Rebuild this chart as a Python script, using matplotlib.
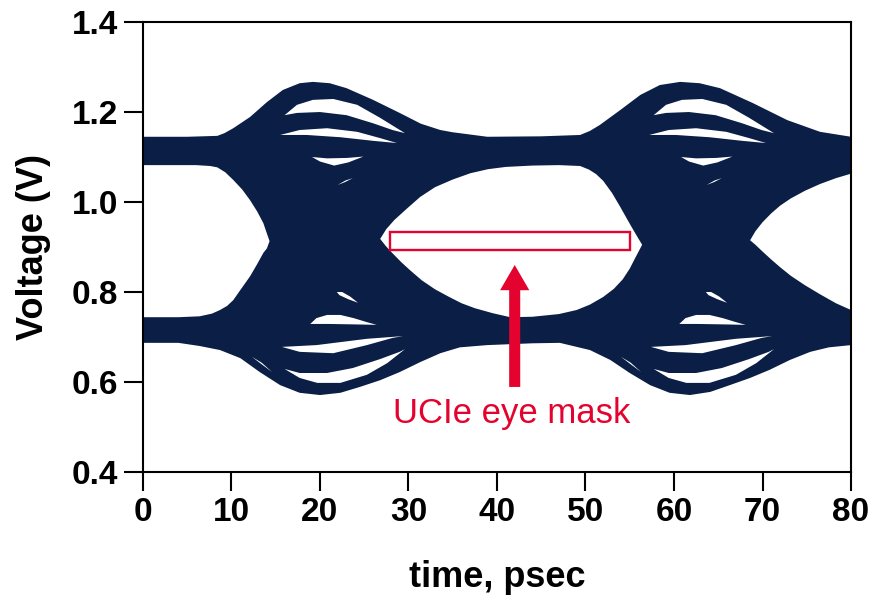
import numpy as np
import matplotlib.pyplot as plt

plt.rcParams['font.family'] = ['Liberation Sans', 'DejaVu Sans']

NAVY = '#0a1e46'
RED = '#e4032e'

# outer envelope of the eye (top and bottom of all traces)
top_t = [-1, 0, 5, 8.4, 9.2, 10.2, 12.1, 14, 15.8, 17.7, 19.2, 21.1, 23, 26, 29, 31.4, 33.6, 35,
         38.9, 45, 49.4, 50.5, 51.6, 53.9, 56.2, 58.4, 60.7, 62.9, 65.2, 68.9, 72.8, 76.5, 80, 81]
top_v = [1.145, 1.145, 1.145, 1.147, 1.153, 1.164, 1.189, 1.222, 1.249, 1.264, 1.267, 1.264, 1.253,
         1.227, 1.198, 1.174, 1.16, 1.155, 1.145, 1.146, 1.149, 1.158, 1.171, 1.204, 1.238, 1.26,
         1.267, 1.264, 1.253, 1.22, 1.182, 1.156, 1.145, 1.145]
bot_t = [-1, 0, 4, 6.4, 8.7, 11, 13.2, 15.5, 17.7, 20, 22.3, 24.5, 26.8, 29, 31.3, 33.6, 35.8, 38.9,
         44, 47.1, 50.5, 52.8, 55, 57.3, 59.5, 61.8, 64.1, 66.3, 68.6, 70.8, 73.1, 75.4, 77.5, 80, 81]
bot_v = [0.687, 0.687, 0.687, 0.68, 0.671, 0.653, 0.622, 0.593, 0.576, 0.571, 0.576, 0.589, 0.604,
         0.622, 0.644, 0.664, 0.677, 0.682, 0.686, 0.687, 0.671, 0.649, 0.62, 0.593, 0.576, 0.571,
         0.578, 0.593, 0.609, 0.627, 0.649, 0.667, 0.677, 0.682, 0.683]

# eye openings
eye_left_t = [-1, 0, 6, 7.6, 8.4, 9.3, 10.2, 11.2, 12.1, 12.9, 13.6, 14.0, 14.3,
              14.0, 13.6, 12.9, 12.1, 11.2, 10.2, 9.5, 8.7, 7.8, 6.4, 4, 0, -1]
eye_left_v = [1.082, 1.082, 1.082, 1.08, 1.077, 1.066, 1.049, 1.028, 1.004, 0.979, 0.953, 0.93, 0.913,
              0.897, 0.887, 0.862, 0.835, 0.81, 0.782, 0.769, 0.76, 0.752, 0.746, 0.744, 0.744, 0.744]
eye_mid_t = [26.8, 27.5, 28.4, 29.8, 31.3, 33.0, 35.0, 37, 39, 41, 44, 47, 49.4, 50.4, 51.2, 52, 53,
             53.9, 54.7, 55.4, 56.0, 56.4,
             56.0, 55.6, 55.0, 54.2, 53.2, 52, 50.5, 49, 47, 44, 41.5, 39.5, 37.5, 36, 34.5, 33,
             31.5, 30.2, 29.2, 28.2, 27.4]
eye_mid_v = [0.918, 0.94, 0.96, 0.985, 1.011, 1.033, 1.05, 1.064, 1.073, 1.078, 1.081, 1.082, 1.08,
             1.072, 1.062, 1.047, 1.02, 0.99, 0.962, 0.938, 0.918, 0.905,
             0.89, 0.875, 0.852, 0.828, 0.807, 0.789, 0.772, 0.76, 0.751, 0.745, 0.744, 0.753,
             0.764, 0.775, 0.79, 0.806, 0.826, 0.848, 0.866, 0.886, 0.903]
eye_right_t = [68.6, 69.2, 70.0, 71.0, 72.0, 73.2, 74.8, 76.5, 78.3, 80, 81,
               81, 80, 78.3, 76.5, 74.8, 73.2, 72, 71, 70, 69.2]
eye_right_v = [0.915, 0.935, 0.955, 0.975, 0.992, 1.008, 1.025, 1.04, 1.053, 1.063, 1.068,
               0.755, 0.76, 0.775, 0.795, 0.815, 0.836, 0.855, 0.872, 0.89, 0.905]

# white gaps between traces inside one crossing, repeated each unit interval
slivers = [
    ([16.0, 17.4, 19.2, 21.5, 24.2, 26.8, 29.6, 28.2, 26, 23, 20, 17.4],
     [1.193, 1.216, 1.227, 1.229, 1.216, 1.187, 1.153, 1.16, 1.175, 1.193, 1.2, 1.198]),
    ([15.5, 17.7, 20.8, 24.2, 26.8, 28.7, 26, 22.3, 18.5],
     [1.149, 1.16, 1.164, 1.156, 1.142, 1.131, 1.136, 1.144, 1.149]),
    ([19.1, 20.8, 23.1, 24.9, 23.2, 21.6, 20.0],
     [1.10, 1.097, 1.098, 1.101, 1.088, 1.081, 1.09]),
    ([22.0, 22.9, 23.7, 22.8], [1.038, 1.048, 1.053, 1.044]),
    ([21.9, 22.5, 23.4, 24.3, 23.2, 22.2], [0.80, 0.80, 0.79, 0.776, 0.784, 0.793]),
    ([18.9, 19.6, 20.8, 22.3, 23.8, 25.3, 26.4, 24, 21],
     [0.729, 0.742, 0.749, 0.749, 0.742, 0.733, 0.727, 0.728, 0.729]),
    ([15.7, 19.6, 25.3, 29.4, 28.2, 25.3, 21.5, 17.7],
     [0.678, 0.682, 0.696, 0.702, 0.698, 0.682, 0.664, 0.667]),
    ([16.0, 17.7, 20.8, 23.7, 26.8, 29.0, 29.6, 27.6, 25.3, 22.3, 19.7, 17.7],
     [0.629, 0.62, 0.62, 0.631, 0.651, 0.667, 0.673, 0.642, 0.616, 0.598, 0.598, 0.609]),
    ([12.3, 13.4, 14.6, 13.5], [0.656, 0.643, 0.622, 0.638]),
]
unit_interval = [0, 41.7]

# UCIe mask and annotation
mask_t = [27.9, 55.0]
mask_v = [0.893, 0.933]
arrow_t = 42.0
arrow_v = [0.589, 0.86]

fig = plt.figure(figsize=(8.73, 5.97), dpi=100)
ax = fig.add_axes([0.1638, 0.2094, 0.811, 0.7537])

ax.fill(top_t + bot_t[::-1], top_v + bot_v[::-1], color=NAVY, lw=0, zorder=1)
for et, ev in [(eye_left_t, eye_left_v), (eye_mid_t, eye_mid_v), (eye_right_t, eye_right_v)]:
    ax.fill(et, ev, color='white', lw=0, zorder=2)
for off in unit_interval:
    for st, sv in slivers:
        ax.fill(np.array(st) + off, sv, color='white', lw=0, zorder=2)

ax.add_patch(plt.Rectangle((mask_t[0], mask_v[0]), mask_t[1] - mask_t[0], mask_v[1] - mask_v[0],
                           fill=False, ec=RED, lw=1.7, zorder=3))
ax.arrow(arrow_t, arrow_v[0], 0, arrow_v[1] - arrow_v[0], width=1.25, head_width=3.3,
         head_length=0.056, length_includes_head=True, fc=RED, ec='none', zorder=3)
ax.text(41.7, 0.531, 'UCIe eye mask', color=RED, fontsize=25, ha='center', va='center')

ax.set_xlim(0, 80)
ax.set_ylim(0.4, 1.4)
ax.set_xticks(np.arange(0, 81, 10))
ax.set_yticks([0.4, 0.6, 0.8, 1.0, 1.2, 1.4])
ax.set_yticklabels(['0.4', '0.6', '0.8', '1.0', '1.2', '1.4'])
ax.tick_params(direction='out', length=14, width=1.5, labelsize=24, pad=4)
for lab in ax.get_xticklabels() + ax.get_yticklabels():
    lab.set_fontweight('bold')
for sp in ax.spines.values():
    sp.set_linewidth(1.5)
ax.set_xlabel('time, psec', fontsize=26, fontweight='bold', labelpad=23)
ax.set_ylabel('Voltage (V)', fontsize=26, fontweight='bold', labelpad=15)

fig.savefig('out.png', dpi=100)
